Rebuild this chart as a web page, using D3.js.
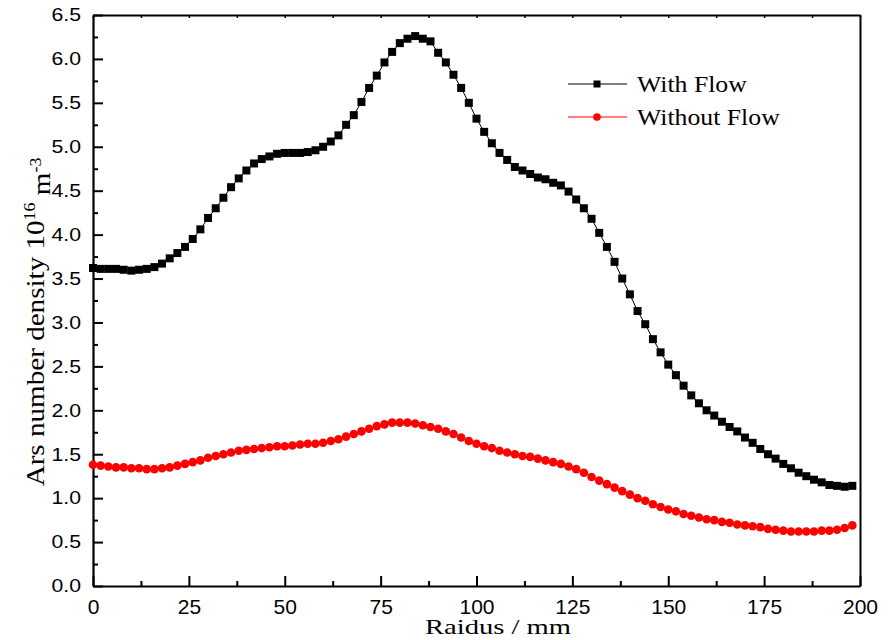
<!DOCTYPE html>
<meta charset="utf-8">
<script src="https://d3js.org/d3.v7.min.js"></script>
<style>
    body { margin: 0; background: #fff; }
    .tick-label { font-family: Arial, "Liberation Sans", sans-serif; fill: #000; }
    .axis-title { font-family: "Times New Roman", "Liberation Serif", serif; fill: #000; }
</style>
<div id="my_dataviz"></div>
<script>

// radius (mm), sampled every 2 mm
const radius = [0, 2, 4, 6, 8, 10, 12, 14, 16, 18, 20, 22, 24, 26, 28, 30, 32, 34, 36, 38,
                40, 42, 44, 46, 48, 50, 52, 54, 56, 58, 60, 62, 64, 66, 68, 70, 72, 74, 76, 78,
                80, 82, 84, 86, 88, 90, 92, 94, 96, 98, 100, 102, 104, 106, 108, 110, 112, 114, 116, 118,
                120, 122, 124, 126, 128, 130, 132, 134, 136, 138, 140, 142, 144, 146, 148, 150, 152, 154, 156, 158,
                160, 162, 164, 166, 168, 170, 172, 174, 176, 178, 180, 182, 184, 186, 188, 190, 192, 194, 196, 198]

// Ars number density (10^16 m^-3)
const withFlow = [3.62, 3.61, 3.61, 3.61, 3.60, 3.59, 3.60, 3.61, 3.63, 3.67, 3.73, 3.79, 3.86, 3.95, 4.06, 4.19, 4.30, 4.42, 4.54, 4.64,
                  4.73, 4.81, 4.86, 4.89, 4.92, 4.93, 4.93, 4.93, 4.94, 4.96, 5.00, 5.06, 5.13, 5.25, 5.36, 5.51, 5.67, 5.81, 5.96, 6.08,
                  6.18, 6.23, 6.26, 6.23, 6.20, 6.07, 5.96, 5.82, 5.67, 5.50, 5.32, 5.17, 5.04, 4.93, 4.85, 4.77, 4.73, 4.69, 4.65, 4.63,
                  4.59, 4.56, 4.49, 4.40, 4.30, 4.18, 4.02, 3.86, 3.69, 3.50, 3.32, 3.13, 2.98, 2.81, 2.66, 2.52, 2.40, 2.28, 2.17, 2.08,
                  2.00, 1.94, 1.87, 1.81, 1.76, 1.69, 1.63, 1.56, 1.50, 1.45, 1.39, 1.34, 1.29, 1.25, 1.21, 1.18, 1.15, 1.14, 1.13, 1.14]

const withoutFlow = [1.38, 1.37, 1.36, 1.35, 1.35, 1.34, 1.34, 1.33, 1.33, 1.34, 1.35, 1.37, 1.39, 1.41, 1.43, 1.46, 1.48, 1.50, 1.52, 1.54,
                     1.55, 1.56, 1.57, 1.58, 1.59, 1.59, 1.60, 1.61, 1.62, 1.62, 1.63, 1.65, 1.67, 1.70, 1.73, 1.76, 1.79, 1.82, 1.84, 1.86,
                     1.86, 1.86, 1.85, 1.83, 1.81, 1.79, 1.76, 1.73, 1.69, 1.65, 1.62, 1.59, 1.57, 1.54, 1.52, 1.50, 1.48, 1.47, 1.45, 1.43,
                     1.41, 1.39, 1.36, 1.33, 1.29, 1.24, 1.20, 1.16, 1.12, 1.08, 1.04, 1.00, 0.97, 0.93, 0.90, 0.87, 0.85, 0.82, 0.80, 0.78,
                     0.76, 0.75, 0.73, 0.72, 0.70, 0.69, 0.68, 0.67, 0.65, 0.64, 0.63, 0.62, 0.62, 0.62, 0.62, 0.63, 0.63, 0.64, 0.66, 0.69]

const xTicks = [0, 25, 50, 75, 100, 125, 150, 175, 200]
const yTicks = [0, 0.5, 1, 1.5, 2, 2.5, 3, 3.5, 4, 4.5, 5, 5.5, 6, 6.5]
const legendNames = ["With Flow", "Without Flow"]

const margin = {top: 15, right: 30, bottom: 54, left: 93},
      width = 890 - margin.left - margin.right,
      height = 640 - margin.top - margin.bottom;

const svg = d3.select("#my_dataviz")
              .append("svg")
                .attr("width", 890)
                .attr("height", 640)
              .append("g")
                .attr("transform", `translate(${margin.left},${margin.top})`);

const x = d3.scaleLinear().domain([0, 200]).range([0, width])
const y = d3.scaleLinear().domain([0, 6.5]).range([height, 0])

// minor ticks halfway between majors
const xMinor = d3.range(12.5, 200, 25)
const yMinor = d3.range(0.25, 6.5, 0.5)

// bottom axis (ticks pointing inward)
const xAxis = svg.append("g")
    .attr("transform", `translate(0,${height})`)
    .call(d3.axisBottom(x).tickValues(xTicks).tickSizeInner(-10).tickSizeOuter(0).tickPadding(22))
xAxis.select(".domain").attr("stroke-width", 2.2)
xAxis.selectAll("line").attr("stroke-width", 2)
xAxis.selectAll("text").attr("class", "tick-label").style("font-size", "21px").attr("dy", "0.32em").attr("y", 21)

svg.append("g")
    .attr("transform", `translate(0,${height})`)
    .call(d3.axisBottom(x).tickValues(xMinor).tickSizeInner(-5).tickSizeOuter(0).tickFormat(""))
    .call(g => g.select(".domain").remove())
    .selectAll("line").attr("stroke-width", 2)

// left axis, labels a little wide like the original export
const ySx = 1.18
const yAxis = svg.append("g")
    .call(d3.axisLeft(y).tickValues(yTicks).tickFormat(d3.format(".1f")).tickSizeInner(-10).tickSizeOuter(0).tickPadding(22))
yAxis.select(".domain").attr("stroke-width", 2.2)
yAxis.selectAll("line").attr("stroke-width", 2)
yAxis.selectAll("text")
    .attr("class", "tick-label")
    .style("font-size", "18px")
    .attr("x", -12 / ySx)
    .attr("transform", `scale(${ySx},1)`)

svg.append("g")
    .call(d3.axisLeft(y).tickValues(yMinor).tickSizeInner(-5).tickSizeOuter(0).tickFormat(""))
    .call(g => g.select(".domain").remove())
    .selectAll("line").attr("stroke-width", 2)

// top axis with small inward ticks, right axis plain
svg.append("g")
    .call(d3.axisTop(x).tickValues(xMinor.concat(xTicks)).tickSizeInner(-3).tickSizeOuter(0).tickFormat(""))
    .call(g => g.select(".domain").attr("stroke-width", 2))
    .selectAll("line").attr("stroke-width", 1.5)

svg.append("g")
    .attr("transform", `translate(${width},0)`)
    .call(d3.axisRight(y).tickValues([]).tickSizeOuter(0))
    .select(".domain").attr("stroke-width", 2)

// axis titles
svg.append("text")
    .attr("class", "axis-title")
    .attr("transform", `translate(${498 - margin.left},${634 - margin.top}) scale(1.3,1)`)
    .attr("text-anchor", "middle")
    .style("font-size", "22px")
    .text("Raidus / mm")

const yTitle = svg.append("text")
    .attr("class", "axis-title")
    .attr("transform", `translate(${44 - margin.left},${322 - margin.top}) rotate(-90) scale(1.12,1)`)
    .attr("text-anchor", "middle")
    .style("font-size", "26px")
yTitle.append("tspan").text("Ars number density 10")
yTitle.append("tspan").attr("dy", "-0.55em").style("font-size", "16px").text("16")
yTitle.append("tspan").attr("dy", "0.55em").text(" m")
yTitle.append("tspan").attr("dy", "-0.55em").style("font-size", "16px").text("-3")

// lines
const line = d3.line()
    .x(function(d){ return x(d[0]) })
    .y(function(d){ return y(d[1]) })

const blackData = radius.map(function(r, i){ return [r, withFlow[i]] })
const redData = radius.map(function(r, i){ return [r, withoutFlow[i]] })

svg.append("path")
    .datum(blackData)
    .attr("d", line)
    .attr("fill", "none")
    .attr("stroke", "#000")
    .attr("stroke-width", 1)

svg.append("path")
    .datum(redData)
    .attr("d", line)
    .attr("fill", "none")
    .attr("stroke", "#ff0000")
    .attr("stroke-width", 1)

const sq = 8
svg.selectAll("mySquares")
    .data(blackData)
    .join("rect")
      .attr("x", function(d){ return x(d[0]) - sq / 2 })
      .attr("y", function(d){ return y(d[1]) - sq / 2 })
      .attr("width", sq)
      .attr("height", sq)
      .attr("fill", "#000")

svg.selectAll("myDots")
    .data(redData)
    .join("circle")
      .attr("cx", function(d){ return x(d[0]) })
      .attr("cy", function(d){ return y(d[1]) })
      .attr("r", 4.3)
      .attr("fill", "#ff0000")

// legend
const legend = svg.append("g").attr("transform", `translate(${568 - margin.left},${84 - margin.top})`)
const legendColors = ["#000", "#ff0000"]
legend.selectAll("legLines")
    .data(legendNames)
    .join("line")
      .attr("x1", 0).attr("x2", 59)
      .attr("y1", function(d, i){ return i * 33 })
      .attr("y2", function(d, i){ return i * 33 })
      .attr("stroke", function(d, i){ return legendColors[i] })
      .attr("stroke-width", 1)
legend.append("rect")
    .attr("x", 29 - 3.5).attr("y", -3.5).attr("width", 7).attr("height", 7).attr("fill", "#000")
legend.append("circle")
    .attr("cx", 29).attr("cy", 33).attr("r", 3.8).attr("fill", "#ff0000")
legend.selectAll("legText")
    .data(legendNames)
    .join("text")
      .attr("class", "axis-title")
      .attr("transform", function(d, i){ return `translate(69,${i * 33 + 8}) scale(1.12,1)` })
      .style("font-size", "23px")
      .text(function(d){ return d })

</script>
